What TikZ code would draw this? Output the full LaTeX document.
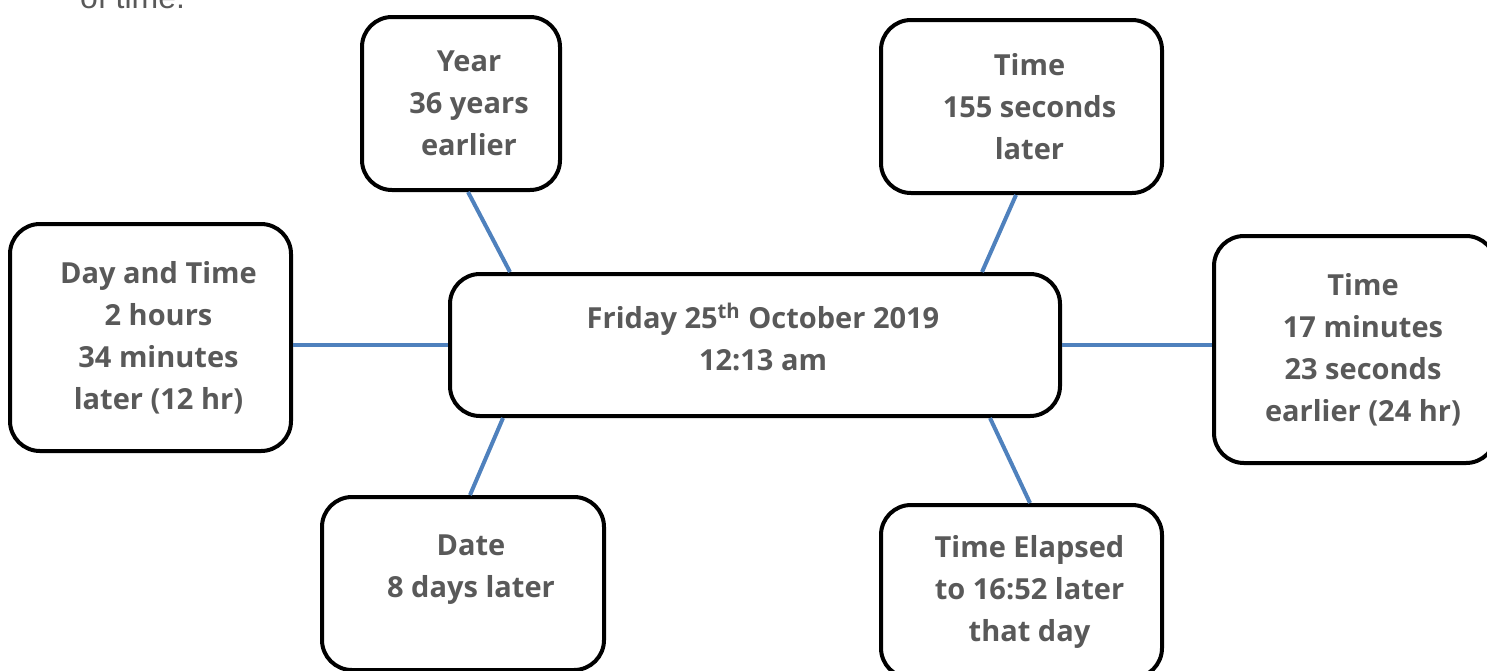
\documentclass[tikz,border=0pt]{standalone}
\usepackage{fontspec}
\setmainfont{Open Sans}
\newfontfamily\introfont{Liberation Sans}
\usetikzlibrary{calc}
\definecolor{txtgray}{HTML}{595959}
\definecolor{linkblue}{HTML}{4F81BD}
\begin{document}
\begin{tikzpicture}
        [x=0.5pt,y=-0.5pt,
         box/.style={draw=black,line width=2pt,rounded corners=15pt,fill=white,inner sep=0pt},
         txtlabel/.style={align=center,text=txtgray,inner sep=0pt,xshift=4pt,
           font=\bfseries\fontsize{14.5}{21}\selectfont},
         boxtext/.style={label={[txtlabel]center:#1}},
         link/.style={draw=linkblue,line width=2pt}]
        \useasboundingbox (0,0) rectangle (1487,670);

        \node[anchor=base west,text=txtgray,font=\introfont\fontsize{16}{19}\selectfont]
          (intro) at (73,8) {of time.};

        \node[box,minimum width=305pt,minimum height=71pt,
          label={[txtlabel,yshift=4pt]center:Friday 25\textsuperscript{th} October 2019\\12:13 am}]
          (main) at (755,345) {};

        \node[box,minimum width=99pt,minimum height=86.5pt,
          boxtext={Year\\36 years\\earlier}] (year) at (461,103.5) {};
        \node[box,minimum width=140.5pt,minimum height=86.5pt,
          boxtext={Time\\155 seconds\\later}] (secs) at (1021.5,106.5) {};
        \node[box,minimum width=140.5pt,minimum height=113.5pt,
          boxtext={Day and Time\\2 hours\\34 minutes\\later (12 hr)}] (daytime) at (150.5,337.5) {};
        \node[box,minimum width=141pt,minimum height=113.5pt,
          boxtext={Time\\17 minutes\\23 seconds\\earlier (24 hr)}] (mins) at (1355,349.5) {};
        \node[box,minimum width=141pt,minimum height=86.5pt,
          label={[txtlabel,yshift=7pt]center:Date\\8 days later}] (date) at (463,583.5) {};
        \node[box,minimum width=140.5pt,minimum height=86.5pt,
          boxtext={Time Elapsed\\to 16:52 later\\that day}] (elapsed) at (1021.5,591.5) {};

        % spokes
        \draw[link] ($(year.south)+(7,0)$) -- ($(main.north west)+(62,0)$);
        \draw[link] ($(secs.south)+(-5.5,0)$) -- ($(main.north east)+(-80,0)$);
        \draw[link] (main.west) -- (main.west -| daytime.east);
        \draw[link] (main.east) -- (main.east -| mins.west);
        \draw[link] ($(main.south west)+(55,0)$) -- ($(date.north)+(7,0)$);
        \draw[link] ($(main.south east)+(-72,0)$) -- ($(elapsed.north)+(8.5,0)$);
      \end{tikzpicture}
\end{document}
